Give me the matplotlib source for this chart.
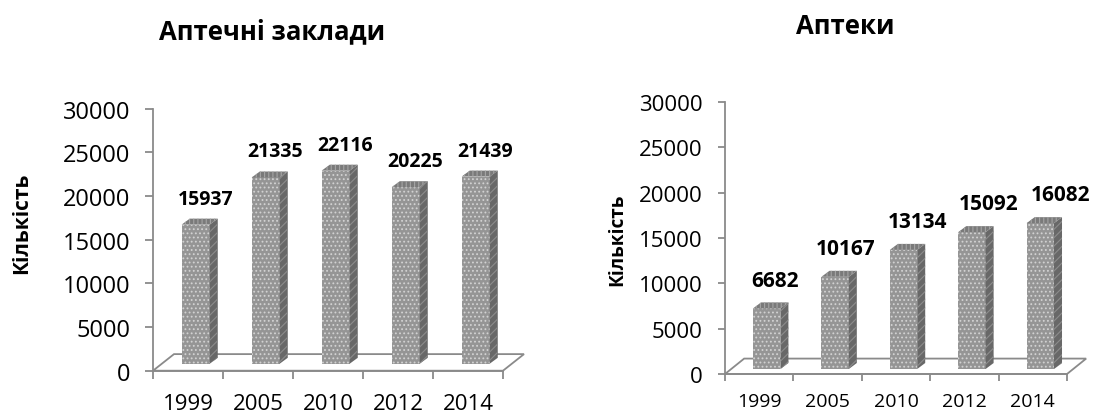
import matplotlib
matplotlib.use("Agg")
import matplotlib.pyplot as plt
from matplotlib.patches import Polygon
import numpy as np

plt.rcParams['font.family'] = ['Open Sans', 'DejaVu Sans']
plt.rcParams['hatch.linewidth'] = 0.8

years = ['1999', '2005', '2010', '2012', '2014']
zaklady = [15937, 21335, 22116, 20225, 21439]
apteky = [6682, 10167, 13134, 15092, 16082]
yticks = [0, 5000, 10000, 15000, 20000, 25000, 30000]

W, H = 1094, 414
fig = plt.figure(figsize=(W / 100, H / 100), dpi=100)


def px_axes(left_px, right_px, top_px, bottom_px):
    return fig.add_axes([left_px / W, 1 - bottom_px / H,
                         (right_px - left_px) / W, (bottom_px - top_px) / H])


def draw_chart(ax, values, xlim, bottom, dx, dy, floor_dx, floor_dy,
               lab_off, lab_dy, lab_fs, ytick_fs, xtick_fs, ypad, xpad,
               tick_len):
    n = len(values)
    ax.set_xlim(*xlim)
    ax.set_ylim(-1500, 31500)
    for s in ['top', 'right']:
        ax.spines[s].set_visible(False)
    grey = '#8a8a8a'
    ax.spines['left'].set_position(('data', -0.5))
    ax.spines['left'].set_bounds(0, 30000)
    ax.spines['bottom'].set_position(('data', 0))
    ax.spines['bottom'].set_bounds(-0.5, n - 0.5)
    for s in ['left', 'bottom']:
        ax.spines[s].set_color(grey)
        ax.spines[s].set_linewidth(1.3)
    ax.set_yticks(yticks)
    ax.set_yticklabels([str(t) for t in yticks])
    ax.tick_params(axis='y', direction='out', length=tick_len, width=1.3,
                   color=grey, labelsize=ytick_fs, pad=ypad)
    ax.set_xticks(np.arange(n + 1) - 0.5)
    ax.set_xticklabels([])
    ax.set_xticks(np.arange(n), minor=True)
    ax.set_xticklabels(years, minor=True)
    ax.tick_params(axis='x', which='major', direction='out', length=tick_len,
                   width=1.3, color=grey)
    ax.tick_params(axis='x', which='minor', length=0, labelsize=xtick_fs,
                   pad=xpad)

    # floor
    floor = Polygon([(-0.5, 0), (n - 0.5, 0),
                     (n - 0.5 + floor_dx, floor_dy), (-0.5 + floor_dx, floor_dy)],
                    closed=True, facecolor='white', edgecolor=grey, lw=1.3,
                    zorder=1)
    ax.add_patch(floor)

    x = np.arange(n)
    left = x - 0.09
    width = 0.4
    ax.bar(left, values, width=width, bottom=bottom, align='edge',
           facecolor='#959595', edgecolor='#d2d2d2', hatch='....', lw=0,
           zorder=3)
    for xl, v in zip(left, values):
        xr = xl + width
        top = bottom + v
        side = Polygon([(xr, bottom), (xr + dx, bottom + dy),
                        (xr + dx, top + dy), (xr, top)], closed=True,
                       facecolor='#686868', edgecolor='#8c8c8c',
                       hatch='////', lw=0, zorder=3)
        topf = Polygon([(xl, top), (xr, top), (xr + dx, top + dy),
                        (xl + dx, top + dy)], closed=True,
                       facecolor='#7a7a7a', edgecolor='#a5a5a5',
                       hatch='||||', lw=0, zorder=3)
        ax.add_patch(side)
        ax.add_patch(topf)
    for i, v in enumerate(values):
        ax.text(i + lab_off[i], bottom + v + dy + lab_dy, str(v),
                ha='center', va='center', fontsize=lab_fs,
                fontweight='bold', color='black', zorder=5)


# Left chart
ax1 = px_axes(153, 153 + 5.6 * 70, 371.7 - 31.5 * 8.73, 371.7 + 1.5 * 8.73)
draw_chart(ax1, zaklady, (-0.5, 5.1), bottom=800, dx=0.115, dy=680,
           floor_dx=0.3, floor_dy=1900,
           lab_off=[0.25] * 5, lab_dy=2300, lab_fs=14,
           ytick_fs=17, xtick_fs=16, ypad=11, xpad=16, tick_len=5.5)
fig.text(272 / W, 1 - 32 / H, 'Аптечні заклади', ha='center', va='center',
         fontsize=18.5, fontweight='bold')
fig.text(22 / W, 1 - 223 / H, 'Кількість', ha='center', va='center',
         rotation=90, fontsize=15, fontweight='bold')

# Right chart
ax2 = px_axes(725, 725 + 5.35 * 68.4, 375 - 31.5 * 9.07, 375 + 1.5 * 9.07)
draw_chart(ax2, apteky, (-0.5, 4.85), bottom=550, dx=0.117, dy=660,
           floor_dx=0.28, floor_dy=1700,
           lab_off=[0.23, 0.27, 0.31, 0.35, 0.40], lab_dy=2450, lab_fs=15,
           ytick_fs=16, xtick_fs=14, ypad=11, xpad=13, tick_len=5)
fig.text(845 / W, 1 - 27 / H, 'Аптеки', ha='center', va='center',
         fontsize=18.5, fontweight='bold')
fig.text(617 / W, 1 - 240 / H, 'Кількість', ha='center', va='center',
         rotation=90, fontsize=13.7, fontweight='bold')

fig.savefig('out.png', dpi=100)
